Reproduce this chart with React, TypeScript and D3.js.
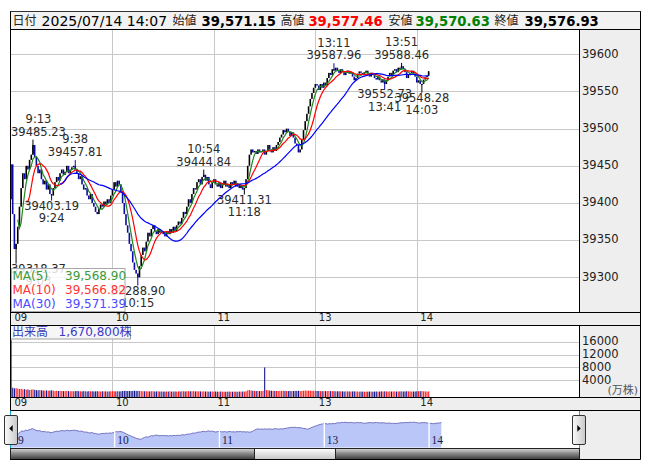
import React from 'react';
import * as d3 from 'd3';

// ---------- data ----------
const headerLabels = ['日付', '始値', '高値', '安値', '終値'];
const headerValues = ['2025/07/14 14:07', '39,571.15', '39,577.46', '39,570.63', '39,576.93'];
const lastBar = { o: 39571.15, h: 39577.46, l: 39570.63, c: 39576.93 };
const prevDayClose = 39569.68;
const firstOpen = 39405;

// 1-minute closes: 09:00–11:29 (idx 0–149), 12:30–14:07 (idx 150–247)
const closes: number[] = [
  39452, 39385, 39338, 39345, 39368, 39395, 39420, 39440, 39432, 39450,
  39445, 39458, 39465, 39478, 39462, 39450, 39440, 39445, 39432, 39425,
  39430, 39418, 39425, 39412, 39410, 39420, 39428, 39435, 39430, 39440,
  39445, 39438, 39442, 39450, 39440, 39445, 39448, 39450, 39445, 39440,
  39432, 39436, 39425, 39418, 39420, 39410, 39405, 39412, 39400, 39395,
  39388, 39385, 39392, 39398, 39395, 39402, 39398, 39405, 39400, 39410,
  39418, 39428, 39422, 39430, 39425, 39415, 39400, 39385, 39370, 39360,
  39345, 39335, 39320, 39310, 39305, 39300, 39315, 39330, 39340, 39335,
  39348, 39360, 39355, 39365, 39370, 39362, 39358, 39365, 39360, 39362,
  39358, 39355, 39362, 39358, 39365, 39360, 39368, 39362, 39370, 39375,
  39372, 39380, 39388, 39385, 39395, 39405, 39400, 39412, 39420, 39418,
  39428, 39432, 39425, 39435, 39438, 39430, 39435, 39425, 39420, 39428,
  39432, 39425, 39422, 39428, 39420, 39425, 39430, 39422, 39425, 39420,
  39428, 39425, 39430, 39422, 39426, 39420, 39424, 39418, 39420, 39432,
  39450, 39465, 39472, 39468, 39470, 39466, 39472, 39468, 39470, 39472,
  39465, 39470, 39478, 39472, 39468, 39475, 39470, 39478, 39482, 39488,
  39492, 39498, 39495, 39500, 39496, 39490, 39495, 39488, 39480, 39478,
  39468, 39472, 39485, 39498, 39510, 39520, 39530, 39540, 39548, 39555,
  39560, 39558, 39552, 39560, 39555, 39562, 39558, 39568, 39575, 39572,
  39580, 39578, 39582, 39578, 39575, 39580, 39576, 39572, 39575, 39578,
  39574, 39576, 39570, 39565, 39568, 39574, 39577, 39575, 39572, 39576,
  39578, 39574, 39570, 39575, 39572, 39568, 39566, 39570, 39565, 39562,
  39566, 39560, 39565, 39570, 39575, 39572, 39578, 39580, 39576, 39582,
  39580, 39584, 39580, 39576, 39568, 39572, 39575, 39578, 39574, 39570,
  39562, 39565, 39560, 39560, 39566, 39569, 39571.15, 39576.93,
];

// volume per minute (万株)
const volumes: number[] = [
  16500, 1700, 1500, 1600, 1400, 1300, 1350, 1200, 1250, 1100,
  1150, 1000, 1100, 1200, 1050, 950, 900, 1000, 900, 850,
  800, 850, 780, 820, 900, 760, 700, 740, 680, 720,
  700, 650, 680, 720, 640, 600, 660, 620, 640, 700,
  620, 600, 580, 640, 600, 560, 620, 580, 600, 560,
  580, 620, 560, 540, 600, 560, 580, 520, 560, 600,
  640, 600, 580, 620, 560, 600, 680, 720, 700, 660,
  700, 680, 720, 760, 700, 740, 680, 640, 620, 600,
  600, 580, 560, 600, 620, 540, 560, 580, 520, 540,
  520, 500, 540, 520, 560, 500, 520, 540, 500, 560,
  540, 580, 600, 560, 620, 640, 580, 600, 620, 560,
  580, 600, 560, 540, 580, 520, 540, 500, 520, 540,
  500, 520, 480, 500, 520, 480, 500, 460, 480, 500,
  480, 460, 500, 480, 460, 500, 480, 520, 500, 620,
  900, 980, 860, 760, 720, 680, 700, 660, 680, 720,
  8000, 1000, 900, 820, 760, 700, 720, 680, 700, 740,
  720, 760, 700, 680, 660, 700, 640, 680, 720, 700,
  760, 680, 700, 760, 820, 780, 800, 760, 720, 740,
  720, 700, 680, 660, 640, 620, 640, 660, 680, 640,
  660, 620, 600, 580, 600, 560, 580, 540, 560, 580,
  540, 520, 560, 580, 540, 520, 500, 520, 500, 480,
  500, 480, 520, 500, 480, 520, 540, 500, 520, 560,
  540, 580, 560, 540, 560, 520, 540, 560, 520, 540,
  560, 580, 540, 560, 600, 580, 560, 540, 520, 540,
  600, 620, 640, 660, 580, 560, 540, 520,
];

const hourIndex = [0, 60, 120, 180, 240];
const hourLabels = ['09', '10', '11', '13', '14'];
const priceTicks = [39300, 39350, 39400, 39450, 39500, 39550, 39600];
const volumeTicks = [4000, 8000, 12000, 16000];

const extremes = [
  { i: 3, v: 39318.37, t: '9:03', hi: false },
  { i: 13, v: 39485.23, t: '9:13', hi: true },
  { i: 24, v: 39403.19, t: '9:24', hi: false },
  { i: 38, v: 39457.81, t: '9:38', hi: true },
  { i: 75, v: 39288.9, t: '10:15', hi: false },
  { i: 114, v: 39444.84, t: '10:54', hi: true },
  { i: 138, v: 39411.31, t: '11:18', hi: false },
  { i: 191, v: 39587.96, t: '13:11', hi: true },
  { i: 221, v: 39552.73, t: '13:41', hi: false },
  { i: 231, v: 39588.46, t: '13:51', hi: true },
  { i: 243, v: 39548.28, t: '14:03', hi: false },
];

const maPeriods = [5, 10, 30];
const maNames = ['MA(5)', 'MA(10)', 'MA(30)'];
const maLegendValues = ['39,568.90', '39,566.82', '39,571.39'];
const maColors = ['#1f861f', '#ff0000', '#0000ff'];
const maTextColors = ['#3a9a3a', '#ff3333', '#4a4aff'];
const volumeTitle = '出来高';
const volumeValue = '1,670,800株';

// ---------- style ----------
const SANS = "'DejaVu Sans', Verdana, sans-serif";
const JP = "'DejaVu Sans', 'Noto Sans CJK JP', sans-serif";
const UP = '#000000';
const DOWN = '#0a0aa8';

function textW(s: string) {
  let w = 0;
  for (const ch of s) w += /[0-9]/.test(ch) ? 7.31 : ch === '.' || ch === ':' ? 3.8 : 7;
  return w;
}

export default function App() {
  const n = closes.length;
  const x = d3.scaleLinear().domain([0, 240]).range([11, 416.8]);
  const y = d3.scaleLinear().domain([39300, 39600]).range([277.3, 54.3]);
  const yV = d3.scaleLinear().domain([0, 16000]).range([393.2, 341.7]);
  const xN = d3.scaleLinear().domain([0, 240]).range([9.8, 429.1]);
  const yN = d3.scaleLinear().domain([39300, 39575]).range([439.3, 422.7]);

  const bars = closes.map((c, i) => {
    let o = i === 0 ? firstOpen : closes[i - 1];
    let h = Math.max(o, c);
    let l = Math.min(o, c);
    if (i === n - 1) {
      o = lastBar.o; h = lastBar.h; l = lastBar.l;
    }
    extremes.forEach((e) => {
      if (e.i === i) {
        if (e.hi) h = Math.max(h, e.v);
        else l = Math.min(l, e.v);
      }
    });
    const prev = i === 0 ? prevDayClose : closes[i - 1];
    return { i, o, h, l, c, up: c >= o, volUp: c >= prev };
  });

  const mas = maPeriods.map((p) =>
    closes
      .map((_, i) => (i >= p - 1 ? [i, d3.mean(closes.slice(i - p + 1, i + 1)) as number] : null))
      .filter((d) => d !== null) as [number, number][]
  );
  const line = d3
    .line<[number, number]>()
    .x((d) => x(d[0]))
    .y((d) => y(d[1]));

  const navArea = d3
    .area<number>()
    .x((_, i) => xN(i))
    .y0(447.5)
    .y1((d) => yN(d));
  const navLine = d3
    .line<number>()
    .x((_, i) => xN(i))
    .y((d) => yN(d));

  const headerLabelX = [12.5, 172.5, 280.5, 388.6, 494.6];
  const headerValueX = [41.6, 201.6, 308.4, 415.6, 524.5];
  const headerValueColors = ['#000', '#000', '#ff0000', '#008000', '#000'];

  return (
    <svg
      width={653}
      height={470}
      style={{ position: 'absolute', left: 0, top: 0, background: '#fff' }}
    >
      <defs>
        <clipPath id="mainClip">
          <rect x={11} y={30} width={568} height={282} />
        </clipPath>
        <clipPath id="volClip">
          <rect x={11} y={326} width={568} height={71} />
        </clipPath>
        <linearGradient id="trackGrad" x1="0" y1="0" x2="0" y2="1">
          <stop offset="0" stopColor="#d8d8d8" />
          <stop offset="0.45" stopColor="#8a8a8a" />
          <stop offset="1" stopColor="#3a3a3a" />
        </linearGradient>
        <linearGradient id="thumbGrad" x1="0" y1="0" x2="0" y2="1">
          <stop offset="0" stopColor="#ffffff" />
          <stop offset="1" stopColor="#c4c4c4" />
        </linearGradient>
        <linearGradient id="btnGrad" x1="0" y1="0" x2="1" y2="0">
          <stop offset="0" stopColor="#fafafa" />
          <stop offset="1" stopColor="#c8c8c8" />
        </linearGradient>
      </defs>

      {/* header */}
      <rect x={10.5} y={11.5} width={630} height={18} fill="#f2f2f2" stroke="#333" />
      {headerLabels.map((t, k) => (
        <text key={'hl' + k} x={headerLabelX[k]} y={25} fontSize={12} fontFamily="'Noto Sans CJK JP', sans-serif" fill="#222">
          {t}
        </text>
      ))}
      {headerValues.map((t, k) => (
        <text
          key={'hv' + k}
          x={headerValueX[k]}
          y={25.5}
          fontSize={k === 0 ? 14 : 13.2}
          fontWeight={k === 0 ? 'normal' : 'bold'}
          fontFamily={SANS}
          fill={headerValueColors[k]}
        >
          {t}
        </text>
      ))}

      {/* main plot */}
      <rect x={11} y={29.5} width={568.5} height={283} fill="#fff" />
      {priceTicks.map((v) => (
        <line key={'pg' + v} x1={11} x2={579.5} y1={Math.round(y(v)) + 0.5} y2={Math.round(y(v)) + 0.5} stroke="#c8c8c8" />
      ))}
      {hourIndex.slice(1).map((h) => (
        <line key={'vg' + h} x1={Math.round(x(h)) + 0.5} x2={Math.round(x(h)) + 0.5} y1={29.5} y2={312.5} stroke="#c8c8c8" />
      ))}
      <g clipPath="url(#mainClip)">
        {bars.map((b) => (
          <g key={'c' + b.i}>
            {(b.h > Math.max(b.o, b.c) || b.l < Math.min(b.o, b.c)) && (
              <line x1={x(b.i)} x2={x(b.i)} y1={y(b.h)} y2={y(b.l)} stroke={b.up ? UP : DOWN} strokeWidth={1} />
            )}
            <rect
              x={x(b.i) - 0.8}
              y={y(Math.max(b.o, b.c))}
              width={1.6}
              height={Math.max(1, Math.abs(y(b.o) - y(b.c)))}
              fill={b.up ? UP : DOWN}
            />
          </g>
        ))}
        {mas.map((m, k) => (
          <path key={'ma' + k} d={line(m) || ''} fill="none" stroke={maColors[k]} strokeWidth={1.2} />
        ))}
      </g>

      {/* extreme annotations */}
      {extremes.map((e, k) => {
        const vs = e.v.toFixed(2);
        const cx = Math.max(x(e.i), 11 + textW(vs) / 2);
        const py = y(e.v);
        const y1 = e.hi ? py - 16.5 : py + 9;
        const y2 = e.hi ? py - 4 : py + 21.5;
        const first = e.hi ? e.t : vs;
        const second = e.hi ? vs : e.t;
        return (
          <g key={'ex' + k} fontFamily={SANS} fontSize={11.5} fill="#2a2a2a" textAnchor="middle">
            <text x={cx} y={y1}>{first}</text>
            <text x={cx} y={y2}>{second}</text>
          </g>
        );
      })}

      {/* MA legend */}
      <rect x={11.5} y={268.5} width={113.5} height={43} fill="#ffffff" fillOpacity={0.82} stroke="#a8a8a8" />
      {maNames.map((nm, k) => (
        <g key={'lg' + k} fontFamily={SANS} fontSize={12} fill={maTextColors[k]}>
          <text x={12.5} y={279.5 + k * 14}>{nm}</text>
          <text x={65} y={279.5 + k * 14}>{maLegendValues[k]}</text>
        </g>
      ))}

      {/* right price axis */}
      <rect x={579.5} y={29.5} width={61} height={283} fill="#eeeeee" />
      {priceTicks.map((v) => (
        <text key={'pl' + v} x={582} y={y(v) + 3.2} fontSize={11.5} fontFamily={SANS} fill="#222">
          {v}
        </text>
      ))}

      {/* x band 1 */}
      <rect x={10.5} y={312.5} width={630} height={13} fill="#eeeeee" />
      {hourIndex.map((h, k) => (
        <text key={'xl1' + k} x={x(h) + 3.5} y={321} fontSize={10} fontFamily={SANS} fill="#222">
          {hourLabels[k]}
        </text>
      ))}

      {/* volume panel */}
      <rect x={11} y={325.5} width={568.5} height={72} fill="#fff" />
      {volumeTicks.map((v) => (
        <line key={'vgl' + v} x1={11} x2={579.5} y1={Math.round(yV(v)) + 0.5} y2={Math.round(yV(v)) + 0.5} stroke="#c8c8c8" />
      ))}
      {hourIndex.slice(1).map((h) => (
        <line key={'vvg' + h} x1={Math.round(x(h)) + 0.5} x2={Math.round(x(h)) + 0.5} y1={325.5} y2={397.5} stroke="#c8c8c8" />
      ))}
      <g clipPath="url(#volClip)">
        {volumes.map((v, i) => (
          <rect
            key={'vb' + i}
            x={x(i) - 0.5}
            y={yV(v)}
            width={1.1}
            height={397 - yV(v)}
            fill={bars[i] && bars[i].volUp ? '#ff1a1a' : '#16168c'}
          />
        ))}
      </g>
      <rect x={10.5} y={325.5} width={120} height={13.5} fill="#f4f4f4" fillOpacity={0.85} stroke="#a0a0a0" />
      <text x={12} y={336} fontSize={12} fontFamily="'Noto Sans CJK JP', sans-serif" fill="#3a3ab8">
        {volumeTitle}
      </text>
      <text x={58.5} y={336} fontSize={12} fontFamily={JP} fill="#3a3ac8">
        {volumeValue}
      </text>
      <rect x={579.5} y={325.5} width={61} height={72} fill="#eeeeee" />
      {volumeTicks.map((v) => (
        <text key={'vl' + v} x={582} y={yV(v) + 3.5} fontSize={11.5} fontFamily={SANS} fill="#222">
          {v}
        </text>
      ))}
      <text x={638} y={394} textAnchor="end" fontSize={11} fontFamily={JP} fill="#555">
        (万株)
      </text>

      {/* x band 2 */}
      <rect x={10.5} y={397.5} width={630} height={13} fill="#eeeeee" />
      {hourIndex.map((h, k) => (
        <text key={'xl2' + k} x={x(h) + 3.5} y={406} fontSize={10} fontFamily={SANS} fill="#222">
          {hourLabels[k]}
        </text>
      ))}

      {/* navigator */}
      <rect x={10.5} y={410.5} width={569} height={38} fill="#fff" />
      <rect x={579.5} y={410.5} width={61} height={49} fill="#eeeeee" />
      <path d={navArea(closes) || ''} fill="#b9c6f7" />
      <path d={navLine(closes) || ''} fill="none" stroke="#7373c0" strokeWidth={1} />
      {hourIndex.slice(1).map((h) => (
        <line key={'ng' + h} x1={xN(h)} x2={xN(h)} y1={414} y2={447.5} stroke="#fff" strokeWidth={1.4} />
      ))}
      {hourIndex.map((h, k) => (
        <text key={'nl' + k} x={xN(h) + 2.5} y={444.3} fontSize={11.5} fontFamily="'Liberation Serif', 'DejaVu Serif', serif" fill="#1a1a4a">
          {hourLabels[k]}
        </text>
      ))}
      <line x1={10.5} x2={10.5} y1={410.5} y2={448} stroke="#19a7d6" />
      <line x1={579.5} x2={579.5} y1={410.5} y2={448} stroke="#19a7d6" />
      <rect x={10.5} y={448.5} width={569} height={11} fill="url(#trackGrad)" stroke="#222" />
      <rect x={254.5} y={448.5} width={81} height={11} fill="url(#thumbGrad)" stroke="#222" />
      <rect x={4.5} y={415.5} width={13} height={29} rx={1.5} fill="url(#btnGrad)" stroke="#333" />
      <path d="M12.7,425 L9.3,428.4 L12.7,431.8 Z" fill="#000" />
      <rect x={572.5} y={415.5} width={13} height={29} rx={1.5} fill="url(#btnGrad)" stroke="#333" />
      <path d="M577.3,425 L580.7,428.4 L577.3,431.8 Z" fill="#000" />

      {/* frame lines */}
      <line x1={10.5} x2={10.5} y1={11.5} y2={410.5} stroke="#000" />
      <line x1={640.5} x2={640.5} y1={11.5} y2={459.5} stroke="#000" />
      <line x1={10.5} x2={640.5} y1={459.5} y2={459.5} stroke="#000" />
      {[29.5, 312.5, 325.5, 397.5, 410.5].map((yy) => (
        <line key={'fh' + yy} x1={10.5} x2={640.5} y1={yy} y2={yy} stroke="#000" />
      ))}
      <line x1={579.5} x2={579.5} y1={29.5} y2={312.5} stroke="#000" />
      <line x1={579.5} x2={579.5} y1={325.5} y2={397.5} stroke="#000" />
    </svg>
  );
}
